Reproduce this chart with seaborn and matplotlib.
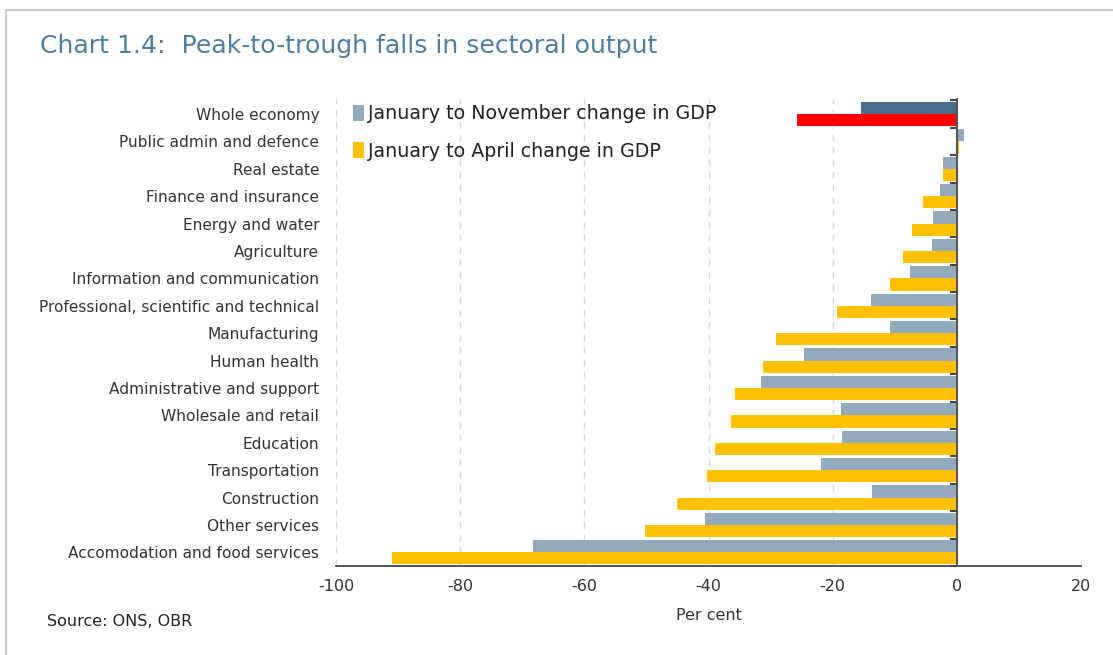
import matplotlib
matplotlib.use("Agg")
import matplotlib.pyplot as plt
import seaborn as sns
import pandas as pd
from matplotlib.patches import Rectangle

categories = [
    "Whole economy", "Public admin and defence", "Real estate", "Finance and insurance",
    "Energy and water", "Agriculture", "Information and communication",
    "Professional, scientific and technical", "Manufacturing", "Human health",
    "Administrative and support", "Wholesale and retail", "Education",
    "Transportation", "Construction", "Other services", "Accomodation and food services",
]
nov_change = [-15.4, 1.2, -2.2, -2.7, -3.8, -4.0, -7.5, -13.9, -10.7, -24.6,
              -31.5, -18.7, -18.5, -21.9, -13.7, -40.5, -68.3]
apr_change = [-25.7, 0.3, -2.2, -5.4, -7.2, -8.6, -10.7, -19.3, -29.2, -31.3,
              -35.8, -36.4, -39.0, -40.3, -45.1, -50.2, -91.0]
series_names = ["January to November change in GDP", "January to April change in GDP"]
x_ticks = [-100, -80, -60, -40, -20, 0, 20]

df = pd.DataFrame({
    "sector": categories * 2,
    "value": nov_change + apr_change,
    "series": [series_names[0]] * len(categories) + [series_names[1]] * len(categories),
})

sns.set_theme(style="white")
plt.rcParams["font.family"] = ["DejaVu Sans"]

fig = plt.figure(figsize=(11.13, 6.55), dpi=100)
ax = fig.add_axes([336 / 1113, 1 - 566 / 655, (1081 - 336) / 1113, (566 - 99) / 655])

palette = {series_names[0]: "#93A9BC", series_names[1]: "#FFC000"}
sns.barplot(data=df, y="sector", x="value", hue="series", palette=palette,
            orient="h", width=0.89, ax=ax, saturation=1, legend=True, linewidth=0)

# Highlight whole economy
special = ["#466E8C", "#FF0000"]
for cont, col in zip(ax.containers, special):
    cont.patches[0].set_facecolor(col)

ax.set_xlim(-100, 20)
ax.set_ylim(len(categories) - 0.5, -0.55)
ax.set_xticks(x_ticks)
ax.set_xticklabels([str(t) for t in x_ticks], fontsize=11.5, color="#333333")
ax.tick_params(axis="x", direction="inout", length=7, width=1.2, color="#555555", pad=6)
ax.tick_params(axis="y", length=0, labelsize=11.1, labelcolor="#333333", pad=12)
ax.set_ylabel("")
ax.set_xlabel("Per cent", fontsize=11.5, color="#333333", labelpad=10)

for s in ["top", "right", "left"]:
    ax.spines[s].set_visible(False)
ax.spines["bottom"].set_color("#555555")
ax.spines["bottom"].set_linewidth(1.4)

for t in x_ticks:
    if t not in (0, 20):
        ax.axvline(t, color="#D9D9D9", linestyle=(0, (5, 4)), linewidth=1, zorder=0)

# zero axis with boundary ticks
sec = ax.secondary_yaxis(100 / 120)
sec.set_zorder(10)
sec.set_yticks([i - 0.5 for i in range(len(categories) + 1)])
sec.set_yticklabels([])
sec.tick_params(axis="y", direction="in", length=5, width=1.5, color="#444444")
for s in sec.spines.values():
    s.set_color("#555555")
    s.set_linewidth(1.4)
ax.axvline(0, color="#555555", linewidth=1.4, zorder=6)

leg = ax.legend(loc="upper left", bbox_to_anchor=(0.0, 1.025), frameon=False,
                fontsize=13.7, handlelength=0.55, handleheight=0.9, handletextpad=0.25,
                labelspacing=0.95)
for txt in leg.get_texts():
    txt.set_color("#222222")

fig.text(40 / 1113, 1 - 46 / 655, "Chart 1.4:  Peak-to-trough falls in sectoral output",
         fontsize=18.1, color="#4F7FA0", va="center", ha="left")
fig.text(47 / 1113, 1 - 622 / 655, "Source: ONS, OBR", fontsize=11.5, color="#222222",
         va="center", ha="left")

fig.patches.append(Rectangle((6 / 1113, -0.1), 1.2, 1 - 10 / 655 + 0.1,
                             transform=fig.transFigure, fill=False,
                             edgecolor="#BFBFBF", linewidth=1.2))

fig.savefig("out.png", dpi=100)
